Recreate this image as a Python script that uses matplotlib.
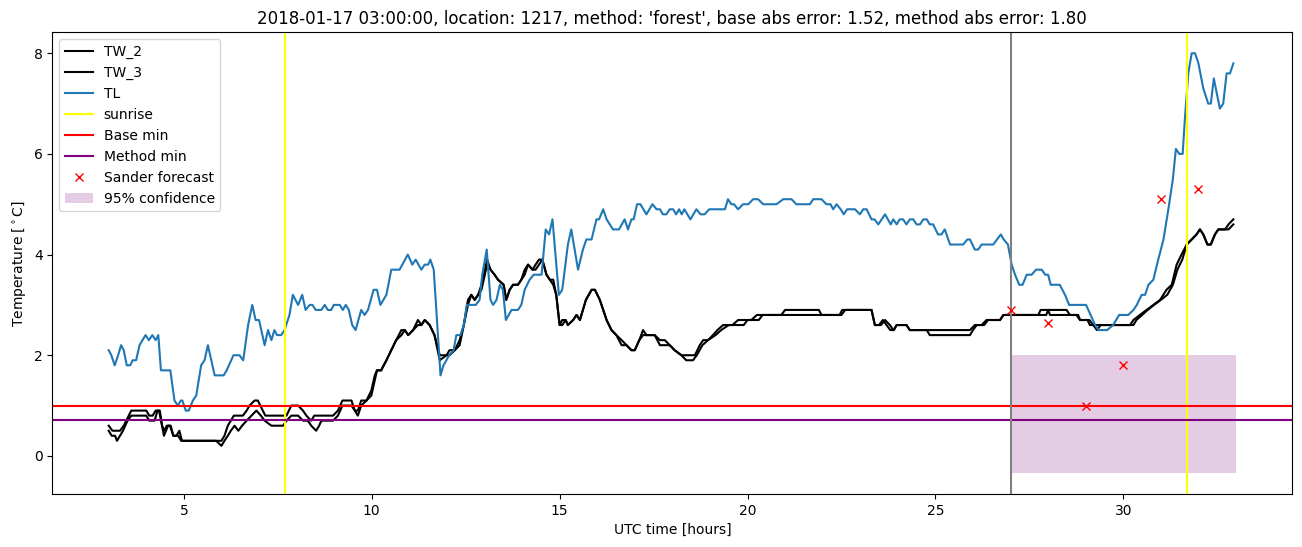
import numpy as np
import matplotlib
matplotlib.use("Agg")
import matplotlib.pyplot as plt

# TL (air temperature), knots: hour, value
tl_t = [3.0, 3.07, 3.16, 3.25, 3.33, 3.4, 3.48, 3.57, 3.64, 3.73, 3.82, 3.9, 3.98, 4.07, 4.16, 4.25, 4.32, 4.39, 4.64, 4.75,
        4.84, 4.92, 4.96, 5.05, 5.13, 5.24, 5.33, 5.46, 5.55, 5.64, 5.82, 6.06, 6.14, 6.26, 6.32, 6.48, 6.58, 6.71, 6.82, 6.91,
        7.0, 7.15, 7.24, 7.33, 7.41, 7.48, 7.59, 7.68, 7.81, 7.9, 8.04, 8.15, 8.24, 8.35, 8.42, 8.51, 8.66, 8.75, 8.83, 8.92,
        8.99, 9.15, 9.23, 9.31, 9.39, 9.48, 9.57, 9.72, 9.81, 9.9, 10.05, 10.14, 10.23, 10.39, 10.52, 10.74, 10.96, 11.08, 11.17, 11.32,
        11.41, 11.5, 11.56, 11.65, 11.83, 11.91, 12.06, 12.18, 12.25, 12.36, 12.45, 12.53, 12.77, 12.87, 12.94, 13.06, 13.16, 13.23, 13.32, 13.41,
        13.49, 13.57, 13.72, 13.89, 13.98, 14.07, 14.2, 14.31, 14.52, 14.63, 14.72, 14.81, 14.98, 15.07, 15.22, 15.31, 15.49, 15.62, 15.71, 15.85,
        15.98, 16.05, 16.16, 16.25, 16.42, 16.58, 16.73, 16.82, 16.91, 16.97, 17.06, 17.15, 17.31, 17.47, 17.58, 17.67, 17.75, 17.84, 17.93, 18.02,
        18.1, 18.18, 18.25, 18.32, 18.48, 18.64, 18.75, 18.86, 18.98, 19.4, 19.48, 19.57, 19.64, 19.75, 19.88, 20.02, 20.15, 20.28, 20.42, 20.77,
        20.95, 21.17, 21.3, 21.66, 21.75, 21.97, 22.1, 22.21, 22.28, 22.37, 22.48, 22.56, 22.65, 22.86, 22.99, 23.08, 23.17, 23.3, 23.38, 23.48,
        23.66, 23.81, 23.88, 23.97, 24.05, 24.14, 24.23, 24.32, 24.41, 24.5, 24.59, 24.68, 24.77, 24.85, 24.94, 25.07, 25.16, 25.25, 25.39, 25.74,
        25.85, 25.92, 26.05, 26.14, 26.23, 26.54, 26.74, 26.82, 26.93, 27.03, 27.12, 27.23, 27.32, 27.43, 27.56, 27.68, 27.83, 27.92, 28.0, 28.07,
        28.31, 28.45, 28.56, 29.01, 29.13, 29.25, 29.34, 29.57, 29.73, 29.89, 30.13, 30.27, 30.36, 30.49, 30.58, 30.67, 30.8, 30.93, 31.07, 31.2,
        31.32, 31.4, 31.49, 31.58, 31.64, 31.73, 31.82, 31.91, 32.0, 32.13, 32.26, 32.33, 32.41, 32.57, 32.66, 32.75, 32.84, 32.93]
tl_v = [2.1, 2.0, 1.8, 2.0, 2.2, 2.1, 1.8, 1.8, 1.9, 1.9, 2.2, 2.3, 2.4, 2.3, 2.4, 2.3, 2.4, 1.7, 1.7, 1.1,
        1.0, 1.1, 1.1, 0.9, 0.9, 1.1, 1.2, 1.8, 1.9, 2.2, 1.6, 1.6, 1.7, 1.9, 2.0, 2.0, 1.9, 2.6, 3.0, 2.7,
        2.7, 2.2, 2.5, 2.3, 2.5, 2.4, 2.4, 2.5, 2.8, 3.2, 3.0, 3.2, 2.9, 3.0, 3.0, 2.9, 2.9, 3.0, 2.9, 2.9,
        3.0, 3.0, 2.9, 3.0, 2.9, 2.6, 2.5, 2.9, 2.8, 2.9, 3.3, 3.3, 3.0, 3.2, 3.7, 3.7, 4.0, 3.8, 3.9, 3.7,
        3.8, 3.8, 3.9, 3.7, 1.6, 1.8, 2.0, 2.1, 2.4, 2.4, 2.6, 3.0, 3.0, 3.1, 3.6, 4.1, 3.1, 3.0, 3.1, 3.4,
        3.3, 2.7, 2.9, 2.9, 3.0, 3.3, 3.5, 3.6, 3.6, 4.5, 4.4, 4.7, 3.2, 3.3, 4.2, 4.5, 3.7, 4.1, 4.3, 4.3,
        4.7, 4.7, 4.9, 4.7, 4.5, 4.5, 4.7, 4.5, 4.7, 4.7, 5.0, 5.0, 4.8, 5.0, 4.9, 4.9, 4.8, 4.8, 4.9, 4.9,
        4.8, 4.9, 4.8, 4.9, 4.7, 4.9, 4.8, 4.8, 4.9, 4.9, 5.1, 5.0, 5.0, 4.9, 5.0, 5.0, 5.1, 5.1, 5.0, 5.0,
        5.1, 5.1, 5.0, 5.0, 5.1, 5.1, 5.0, 5.0, 4.9, 5.0, 4.9, 4.8, 4.9, 4.9, 4.8, 4.9, 4.9, 4.7, 4.7, 4.6,
        4.8, 4.6, 4.7, 4.6, 4.7, 4.7, 4.6, 4.7, 4.7, 4.6, 4.6, 4.7, 4.7, 4.6, 4.6, 4.4, 4.4, 4.5, 4.2, 4.2,
        4.3, 4.3, 4.1, 4.1, 4.2, 4.2, 4.4, 4.3, 4.2, 3.8, 3.6, 3.4, 3.4, 3.6, 3.6, 3.7, 3.7, 3.6, 3.6, 3.4,
        3.4, 3.2, 3.0, 3.0, 2.8, 2.6, 2.5, 2.5, 2.6, 2.8, 2.8, 2.9, 3.0, 3.2, 3.2, 3.4, 3.5, 3.9, 4.3, 4.9,
        5.5, 6.1, 6.0, 6.0, 6.7, 7.6, 8.0, 8.0, 7.8, 7.3, 7.0, 7.0, 7.5, 6.9, 7.0, 7.6, 7.6, 7.8]

# TW_2 (upper of the two black series)
tw2_t = [3.0, 3.1, 3.3, 3.4, 3.6, 4.0, 4.08, 4.17, 4.25, 4.34, 4.42, 4.47, 4.55, 4.63, 4.72, 4.8, 4.88, 4.95, 5.85, 6.0,
         6.08, 6.17, 6.25, 6.33, 6.57, 6.67, 6.75, 6.88, 6.97, 7.1, 7.17, 7.73, 7.86, 8.04, 8.17, 8.26, 8.39, 8.47, 8.97, 9.1,
         9.22, 9.46, 9.55, 9.63, 9.72, 9.86, 9.99, 10.08, 10.14, 10.25, 10.39, 10.52, 10.65, 10.79, 10.88, 10.97, 11.1, 11.23, 11.32, 11.41,
         11.54, 11.67, 11.81, 11.99, 12.07, 12.21, 12.34, 12.45, 12.56, 12.65, 12.74, 12.83, 12.92, 13.07, 13.16, 13.27, 13.36, 13.51, 13.58, 13.67,
         13.76, 13.89, 13.98, 14.07, 14.16, 14.28, 14.36, 14.45, 14.54, 14.65, 14.74, 14.83, 14.91, 15.0, 15.07, 15.16, 15.22, 15.36, 15.45, 15.54,
         15.7, 15.85, 15.94, 16.07, 16.25, 16.38, 16.51, 16.65, 16.78, 16.91, 17.0, 17.12, 17.22, 17.31, 17.53, 17.67, 17.8, 17.93, 18.06, 18.24,
         18.37, 18.6, 18.73, 18.82, 18.95, 19.08, 19.2, 19.35, 19.6, 19.75, 20.1, 20.25, 20.9, 21.0, 21.9, 21.97, 22.45, 22.52, 23.3, 23.39,
         23.55, 23.66, 23.79, 23.88, 23.97, 24.23, 24.32, 25.92, 26.05, 26.23, 26.36, 26.72, 26.81, 27.74, 27.8, 28.49, 28.58, 28.8, 28.85, 29.05,
         29.11, 30.18, 30.27, 30.44, 30.62, 30.8, 30.98, 31.15, 31.29, 31.42, 31.55, 31.69, 31.82, 31.95, 32.04, 32.13, 32.24, 32.33, 32.44, 32.53,
         32.71, 32.8, 32.93]
tw2_v = [0.6, 0.5, 0.5, 0.6, 0.9, 0.9, 0.8, 0.8, 0.9, 0.9, 0.6, 0.5, 0.6, 0.6, 0.4, 0.4, 0.5, 0.3, 0.3, 0.3,
         0.4, 0.6, 0.7, 0.8, 0.8, 0.9, 1.0, 1.1, 1.1, 0.9, 0.8, 0.8, 1.0, 1.0, 0.9, 0.8, 0.7, 0.8, 0.8, 0.9,
         1.1, 1.1, 0.9, 0.9, 1.1, 1.1, 1.3, 1.6, 1.7, 1.7, 1.9, 2.1, 2.3, 2.5, 2.5, 2.4, 2.5, 2.7, 2.6, 2.7,
         2.6, 2.4, 2.0, 2.0, 2.1, 2.1, 2.3, 2.6, 3.1, 3.2, 3.1, 3.2, 3.4, 3.9, 3.7, 3.6, 3.5, 3.4, 3.1, 3.3,
         3.4, 3.4, 3.5, 3.7, 3.8, 3.7, 3.8, 3.9, 3.9, 3.6, 3.5, 3.5, 3.2, 2.6, 2.7, 2.7, 2.6, 2.7, 2.8, 2.7,
         3.1, 3.3, 3.3, 3.1, 2.7, 2.5, 2.4, 2.3, 2.2, 2.1, 2.1, 2.3, 2.5, 2.4, 2.4, 2.3, 2.3, 2.2, 2.1, 2.0,
         2.0, 2.0, 2.2, 2.3, 2.3, 2.4, 2.5, 2.6, 2.6, 2.7, 2.7, 2.8, 2.8, 2.9, 2.9, 2.8, 2.8, 2.9, 2.9, 2.6,
         2.6, 2.7, 2.6, 2.5, 2.6, 2.6, 2.5, 2.5, 2.6, 2.6, 2.7, 2.7, 2.8, 2.8, 2.9, 2.9, 2.8, 2.8, 2.7, 2.7,
         2.6, 2.6, 2.7, 2.8, 2.9, 3.0, 3.1, 3.3, 3.4, 3.8, 4.0, 4.2, 4.3, 4.4, 4.5, 4.4, 4.2, 4.2, 4.4, 4.5,
         4.5, 4.6, 4.7]

# TW_3 (lower of the two black series)
tw3_t = [3.0, 3.08, 3.17, 3.22, 3.3, 3.38, 3.5, 3.6, 4.0, 4.08, 4.22, 4.3, 4.36, 4.42, 4.47, 4.58, 4.65, 4.72, 4.85, 4.93,
         5.86, 6.0, 6.08, 6.17, 6.25, 6.35, 6.45, 6.55, 6.67, 6.8, 6.93, 7.05, 7.15, 7.33, 7.64, 7.73, 7.86, 8.04, 8.17, 8.3,
         8.39, 8.52, 8.6, 8.66, 8.97, 9.1, 9.22, 9.46, 9.55, 9.63, 9.72, 9.86, 9.99, 10.08, 10.14, 10.25, 10.39, 10.52, 10.65, 10.79,
         10.88, 10.97, 11.1, 11.23, 11.32, 11.41, 11.54, 11.67, 11.81, 11.99, 12.07, 12.21, 12.34, 12.45, 12.56, 12.65, 12.74, 12.83, 12.92, 13.07,
         13.16, 13.27, 13.36, 13.51, 13.58, 13.67, 13.76, 13.89, 13.98, 14.07, 14.16, 14.28, 14.36, 14.45, 14.54, 14.65, 14.74, 14.83, 14.91, 15.0,
         15.07, 15.16, 15.22, 15.36, 15.45, 15.54, 15.7, 15.85, 15.94, 16.07, 16.25, 16.38, 16.51, 16.65, 16.78, 16.91, 17.0, 17.12, 17.22, 17.31,
         17.53, 17.67, 17.8, 17.93, 18.06, 18.24, 18.37, 18.55, 18.65, 18.8, 18.95, 19.15, 19.3, 19.5, 19.9, 20.0, 20.3, 20.4, 22.5, 22.6,
         23.3, 23.39, 23.5, 23.6, 23.7, 23.8, 23.9, 23.97, 24.23, 24.32, 24.77, 24.85, 25.92, 26.0, 26.1, 26.3, 26.4, 26.72, 26.81, 27.95,
         28.0, 28.05, 28.75, 28.85, 29.1, 29.2, 29.3, 29.4, 30.18, 30.27, 30.35, 30.5, 30.65, 30.82, 31.0, 31.17, 31.32, 31.44, 31.57, 31.69,
         31.82, 31.95, 32.04, 32.13, 32.24, 32.33, 32.44, 32.53, 32.71, 32.8, 32.93]
tw3_v = [0.5, 0.4, 0.4, 0.3, 0.4, 0.5, 0.7, 0.8, 0.8, 0.7, 0.7, 0.9, 0.9, 0.6, 0.4, 0.6, 0.6, 0.4, 0.4, 0.3,
         0.3, 0.2, 0.3, 0.4, 0.5, 0.6, 0.5, 0.6, 0.7, 0.8, 0.9, 0.8, 0.7, 0.6, 0.6, 0.7, 0.8, 0.8, 0.7, 0.7,
         0.6, 0.5, 0.6, 0.7, 0.7, 0.8, 1.0, 1.0, 0.9, 0.8, 1.0, 1.1, 1.2, 1.5, 1.7, 1.7, 1.9, 2.1, 2.3, 2.4,
         2.5, 2.4, 2.5, 2.6, 2.6, 2.7, 2.6, 2.4, 1.9, 2.0, 2.0, 2.1, 2.2, 2.6, 3.0, 3.2, 3.1, 3.2, 3.3, 3.8,
         3.7, 3.6, 3.5, 3.4, 3.1, 3.3, 3.4, 3.4, 3.5, 3.6, 3.8, 3.7, 3.7, 3.8, 3.9, 3.6, 3.5, 3.4, 3.2, 2.6,
         2.6, 2.7, 2.6, 2.7, 2.8, 2.7, 3.1, 3.3, 3.3, 3.1, 2.7, 2.5, 2.4, 2.2, 2.2, 2.1, 2.1, 2.3, 2.4, 2.4,
         2.4, 2.2, 2.2, 2.2, 2.1, 2.0, 1.9, 1.9, 2.0, 2.2, 2.3, 2.4, 2.5, 2.6, 2.6, 2.7, 2.7, 2.8, 2.8, 2.9,
         2.9, 2.6, 2.6, 2.7, 2.6, 2.5, 2.5, 2.6, 2.6, 2.5, 2.5, 2.4, 2.4, 2.5, 2.6, 2.6, 2.7, 2.7, 2.8, 2.8,
         2.9, 2.8, 2.8, 2.7, 2.7, 2.6, 2.5, 2.6, 2.6, 2.6, 2.7, 2.8, 2.9, 3.0, 3.1, 3.2, 3.4, 3.7, 3.9, 4.2,
         4.3, 4.4, 4.5, 4.4, 4.2, 4.2, 4.4, 4.5, 4.5, 4.5, 4.6]

sunrise_hours = [7.68, 31.69]
base_min = 1.0
method_min = 0.72
forecast_start = 27.0
forecast_hours = [27, 28, 29, 30, 31, 32]
forecast_values = [2.9, 2.65, 1.0, 1.8, 5.1, 5.3]
conf_hours = [27.0, 33.0]
conf_low = -0.34
conf_high = 2.0

title = ("2018-01-17 03:00:00, location: 1217, method: 'forest', "
         "base abs error: 1.52, method abs error: 1.80")

fig, ax = plt.subplots(figsize=(13.02, 5.47), dpi=100)
fig.subplots_adjust(left=0.0402, right=0.9926, top=0.941, bottom=0.0969)

ax.plot(tw2_t, tw2_v, color="black", label="TW_2")
ax.plot(tw3_t, tw3_v, color="black", label="TW_3")
ax.plot(tl_t, tl_v, color="#1f77b4", label="TL")
for i, s in enumerate(sunrise_hours):
    ax.axvline(s, color="yellow", label="sunrise" if i == 0 else None)
ax.axhline(base_min, color="red", label="Base min")
ax.axhline(method_min, color="purple", label="Method min")
ax.axvline(forecast_start, color="grey")
ax.plot(forecast_hours, forecast_values, "x", color="red", label="Sander forecast")
ax.fill_between(conf_hours, conf_low, conf_high, color="purple", alpha=0.2,
                linewidth=0, label="95% confidence")

ax.set_title(title)
ax.set_xlabel("UTC time [hours]")
ax.set_ylabel(r"Temperature [$^\circ$C]")
ax.legend(loc="upper left")

fig.savefig("out.png", dpi=100)
